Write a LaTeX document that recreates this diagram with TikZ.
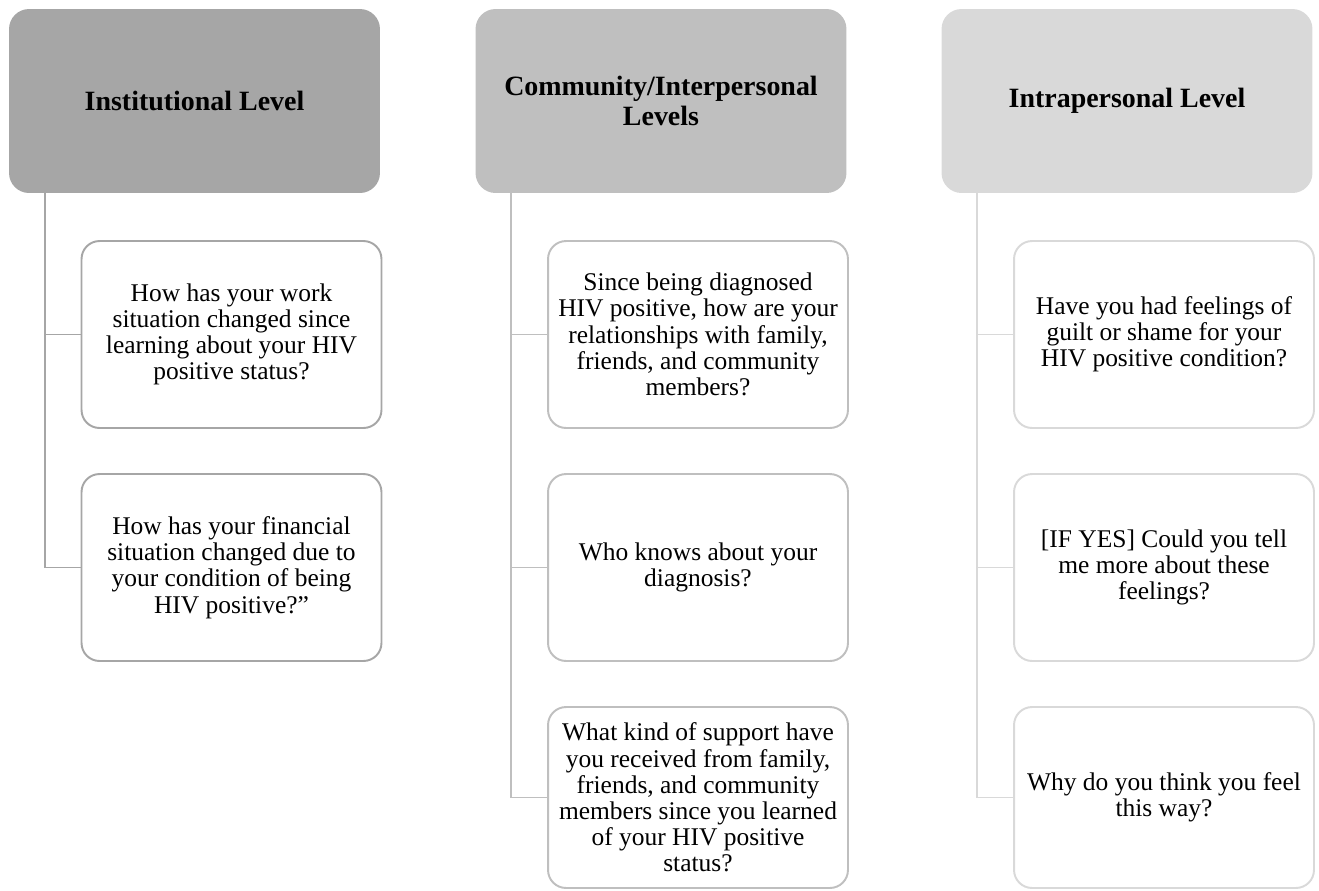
\documentclass[tikz,border=0pt]{standalone}
\usepackage{fontspec}
\setmainfont{Liberation Serif}
\usetikzlibrary{positioning,calc}

\definecolor{lvlA}{HTML}{A6A6A6}
\definecolor{lvlB}{HTML}{BFBFBF}
\definecolor{lvlC}{HTML}{D9D9D9}

\begin{document}
\begin{tikzpicture}[
  x=0.02cm, y=-0.02cm,
  head/.style={rectangle, rounded corners=0.4cm, align=center, font=\fontsize{15.9}{16.7}\selectfont\bfseries, minimum width=7.42cm, minimum height=3.68cm, inner sep=0pt},
  quest/.style={rectangle, draw, fill=white, line width=1.1pt, rounded corners=0.36cm, align=center, font=\fontsize{14.5}{14.9}\selectfont, minimum width=6cm, minimum height=3.74cm, inner sep=0pt},
  link/.style={line width=1.1pt},
]
\useasboundingbox (0,0) rectangle (1319,890);

% === HEADERS ===
\node[head, fill=lvlA] (hinst) at (194.5,101) {Institutional Level};
\node[head, fill=lvlB] (hcomm) at (661,101) {Community/Interpersonal\\Levels};
\node[head, fill=lvlC] (hintra) at (1127,101) {Intrapersonal Level};

% === INSTITUTIONAL ===
\node[quest, draw=lvlA] (qinst1) at (231.5,334.5) {How has your work\\situation changed since\\learning about your HIV\\positive status?};
\node[quest, draw=lvlA] (qinst2) at (231.5,567.5) {How has your financial\\situation changed due to\\your condition of being\\HIV positive?''};

\draw[link, lvlA] ([xshift=0.72cm]hinst.south west) |- (qinst1.west);
\draw[link, lvlA] ([xshift=0.72cm]hinst.south west) |- (qinst2.west);

% === COMMUNITY ===
\node[quest, draw=lvlB] (qcomm1) at (698,334.5) {Since being diagnosed\\HIV positive, how are your\\relationships with family,\\friends, and community\\members?};
\node[quest, draw=lvlB] (qcomm2) at (698,567.5) {Who knows about your\\diagnosis?};
\node[quest, draw=lvlB, minimum height=3.62cm] (qcomm3) at (698,797.5) {What kind of support have\\you received from family,\\friends, and community\\members since you learned\\of your HIV positive\\status?};

\draw[link, lvlB] ([xshift=0.72cm]hcomm.south west) |- (qcomm1.west);
\draw[link, lvlB] ([xshift=0.72cm]hcomm.south west) |- (qcomm2.west);
\draw[link, lvlB] ([xshift=0.72cm]hcomm.south west) |- (qcomm3.west);

% === INTRAPERSONAL ===
\node[quest, draw=lvlC] (qintra1) at (1164,334.5) {Have you had feelings of\\guilt or shame for your\\HIV positive condition?};
\node[quest, draw=lvlC] (qintra2) at (1164,567.5) {[IF YES] Could you tell\\me more about these\\feelings?};
\node[quest, draw=lvlC, minimum height=3.62cm] (qintra3) at (1164,797.5) {Why do you think you feel\\this way?};

\draw[link, lvlC] ([xshift=0.72cm]hintra.south west) |- (qintra1.west);
\draw[link, lvlC] ([xshift=0.72cm]hintra.south west) |- (qintra2.west);
\draw[link, lvlC] ([xshift=0.72cm]hintra.south west) |- (qintra3.west);
\end{tikzpicture}
\end{document}
